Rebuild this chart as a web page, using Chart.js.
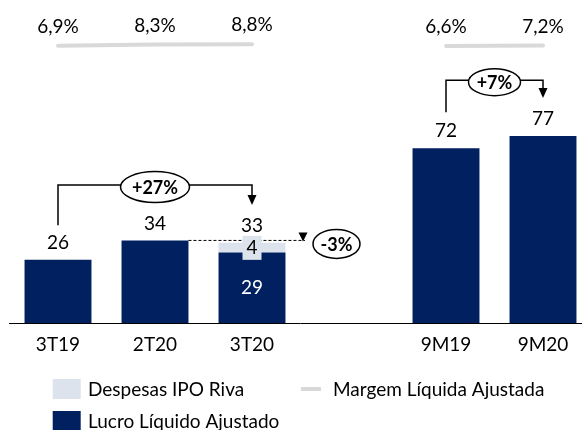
<!DOCTYPE html>
<html>
<head>
<meta charset="utf-8">
<script src="https://cdn.jsdelivr.net/npm/chart.js@4.4.0/dist/chart.umd.min.js"></script>
<style>
  html, body { margin: 0; padding: 0; background: #fff; overflow: hidden; }
  #wrap { width: 592px; height: 430px; }
</style>
</head>
<body>
<div id="wrap"><canvas id="chart" width="592" height="430"></canvas></div>
<script>
const categories = ['3T19', '2T20', '3T20', '', '9M19', '9M20'];
const lucroAjustado = [26, 34, 29, null, 72, 77];
const despesasIpo = [null, null, 4, null, null, null];
const margemAjustada = [6.9, 8.3, 8.8, null, 6.6, 7.2];
const margemLabels = ['6,9%', '8,3%', '8,8%', '', '6,6%', '7,2%'];

const NAVY = '#002060';
const LIGHT = '#dce3ed';
const GRAY = '#d9d9d9';
const FONT = 'Lato, "Liberation Sans", sans-serif';
const FS = 19;

// setas de variacao (em unidades do eixo y)
const variacoes = [
  { from: 0, to: 2, level: 56.8, start: 40.3, tip: 48.6, text: '+27%', rx: 34.5, ry: 15.5 },
  { from: 4, to: 5, level: 100, start: 86.8, tip: 92.6, text: '+7%', rx: 26, ry: 13.5 }
];

function ellipse(ctx, cx, cy, rx, ry, text) {
  ctx.beginPath();
  ctx.ellipse(cx, cy, rx, ry, 0, 0, Math.PI * 2);
  ctx.fillStyle = '#fff';
  ctx.fill();
  ctx.lineWidth = 1.5;
  ctx.strokeStyle = '#000';
  ctx.stroke();
  ctx.fillStyle = '#000';
  ctx.font = 'bold 18px ' + FONT;
  ctx.textAlign = 'center';
  ctx.textBaseline = 'middle';
  ctx.fillText(text, cx, cy + 1);
}

function arrowDown(ctx, x, tipY, w, h) {
  ctx.beginPath();
  ctx.moveTo(x - w / 2, tipY - h);
  ctx.lineTo(x + w / 2, tipY - h);
  ctx.lineTo(x, tipY);
  ctx.closePath();
  ctx.fillStyle = '#000';
  ctx.fill();
}

function boxDespesas(ctx, xs, ys) {
  categories.forEach((c, i) => {
    if (despesasIpo[i] == null) return;
    const x = xs.getPixelForValue(i);
    const yTop = ys.getPixelForValue(lucroAjustado[i] + despesasIpo[i]);
    ctx.fillStyle = LIGHT;
    ctx.fillRect(x - 9.5, yTop - 7, 19, 24);
    ctx.fillStyle = '#000';
    ctx.font = FS + 'px ' + FONT;
    ctx.textAlign = 'center';
    ctx.textBaseline = 'middle';
    ctx.fillText(String(despesasIpo[i]), x, yTop + 5.5);
  });
}

const labelsPlugin = {
  id: 'labels',
  afterDatasetsDraw(chart) {
    const ctx = chart.ctx;
    const xs = chart.scales.x;
    const ys = chart.scales.y;
    const y2 = chart.scales.y2;
    ctx.save();
    ctx.textAlign = 'center';
    ctx.textBaseline = 'middle';
    ctx.font = FS + 'px ' + FONT;

    // totais acima das barras
    categories.forEach((c, i) => {
      if (lucroAjustado[i] == null) return;
      const total = lucroAjustado[i] + (despesasIpo[i] || 0);
      ctx.fillStyle = '#000';
      ctx.fillText(String(total), xs.getPixelForValue(i), ys.getPixelForValue(total) - 17);
    });

    // valor interno (lucro) onde ha despesas IPO
    categories.forEach((c, i) => {
      if (despesasIpo[i] == null) return;
      const yMid = (ys.getPixelForValue(0) + ys.getPixelForValue(lucroAjustado[i])) / 2;
      ctx.fillStyle = '#fff';
      ctx.fillText(String(lucroAjustado[i]), xs.getPixelForValue(i), yMid);
    });

    // margem
    categories.forEach((c, i) => {
      if (margemAjustada[i] == null) return;
      ctx.fillStyle = '#000';
      ctx.fillText(margemLabels[i], xs.getPixelForValue(i), y2.getPixelForValue(margemAjustada[i]) - 19);
    });

    // colchetes de variacao
    ctx.strokeStyle = '#000';
    ctx.lineWidth = 1.5;
    variacoes.forEach((v) => {
      const x1 = xs.getPixelForValue(v.from);
      const x2 = xs.getPixelForValue(v.to);
      const yl = ys.getPixelForValue(v.level);
      const ytip = ys.getPixelForValue(v.tip);
      ctx.strokeStyle = '#000';
      ctx.lineWidth = 1.5;
      ctx.beginPath();
      ctx.moveTo(x1, ys.getPixelForValue(v.start));
      ctx.lineTo(x1, yl);
      ctx.lineTo(x2, yl);
      ctx.lineTo(x2, ytip - 9);
      ctx.stroke();
      arrowDown(ctx, x2, ytip, 9, 10);
      ellipse(ctx, (x1 + x2) / 2, yl + 2, v.rx, v.ry, v.text);
    });

    // -3%
    const meta = chart.getDatasetMeta(0);
    const half = meta.data[1].width / 2;
    const yRef = ys.getPixelForValue(lucroAjustado[1]);
    ctx.save();
    ctx.setLineDash([3, 2]);
    ctx.lineWidth = 1;
    ctx.strokeStyle = '#000';
    ctx.beginPath();
    ctx.moveTo(xs.getPixelForValue(1) + half, yRef);
    ctx.lineTo(305, yRef);
    ctx.stroke();
    ctx.restore();
    boxDespesas(ctx, xs, ys);
    arrowDown(ctx, 303, yRef + 1, 9, 9);
    ellipse(ctx, 336.5, yRef + 3.5, 23.5, 14.5, '-3%');

    // legenda
    ctx.font = FS + 'px ' + FONT;
    ctx.textAlign = 'left';
    ctx.textBaseline = 'middle';
    ctx.fillStyle = LIGHT;
    ctx.fillRect(52.7, 379, 28, 20);
    ctx.fillStyle = '#000';
    ctx.fillText(chart.data.datasets[1].label, 88, 390);
    ctx.strokeStyle = GRAY;
    ctx.lineWidth = 4;
    ctx.beginPath();
    ctx.moveTo(301, 389);
    ctx.lineTo(321, 389);
    ctx.stroke();
    ctx.fillText(chart.data.datasets[2].label, 333, 390);
    ctx.fillStyle = NAVY;
    ctx.fillRect(52.7, 411, 28, 20);
    ctx.fillStyle = '#000';
    ctx.fillText(chart.data.datasets[0].label, 88, 422);
    ctx.restore();
  }
};

new Chart(document.getElementById('chart'), {
  type: 'bar',
  data: {
    labels: categories,
    datasets: [
      {
        label: 'Lucro Líquido Ajustado',
        data: lucroAjustado,
        backgroundColor: NAVY,
        stack: 's',
        categoryPercentage: 1,
        barPercentage: 0.69,
        order: 2
      },
      {
        label: 'Despesas IPO Riva',
        data: despesasIpo,
        backgroundColor: LIGHT,
        stack: 's',
        categoryPercentage: 1,
        barPercentage: 0.69,
        order: 2
      },
      {
        type: 'line',
        label: 'Margem Líquida Ajustada',
        data: margemAjustada,
        yAxisID: 'y2',
        borderColor: GRAY,
        borderWidth: 4,
        borderCapStyle: 'round',
        pointRadius: 0,
        spanGaps: false,
        order: 1
      }
    ]
  },
  options: {
    responsive: false,
    animation: false,
    layout: { padding: { left: 9.5, right: 0.5, top: 0, bottom: 0 } },
    plugins: { legend: { display: false }, tooltip: { enabled: false } },
    scales: {
      x: {
        stacked: true,
        grid: { display: false, drawTicks: false },
        border: { display: true, color: '#000', width: 1 },
        ticks: { color: '#000', font: { family: FONT, size: FS }, padding: 10, maxRotation: 0, autoSkip: false },
        afterFit: (s) => { s.height = 107; }
      },
      y: { stacked: true, display: false, min: 0, max: 133 },
      y2: { display: false, min: -339.7, max: 64.05 }
    }
  },
  plugins: [labelsPlugin]
});
</script>
</body>
</html>
